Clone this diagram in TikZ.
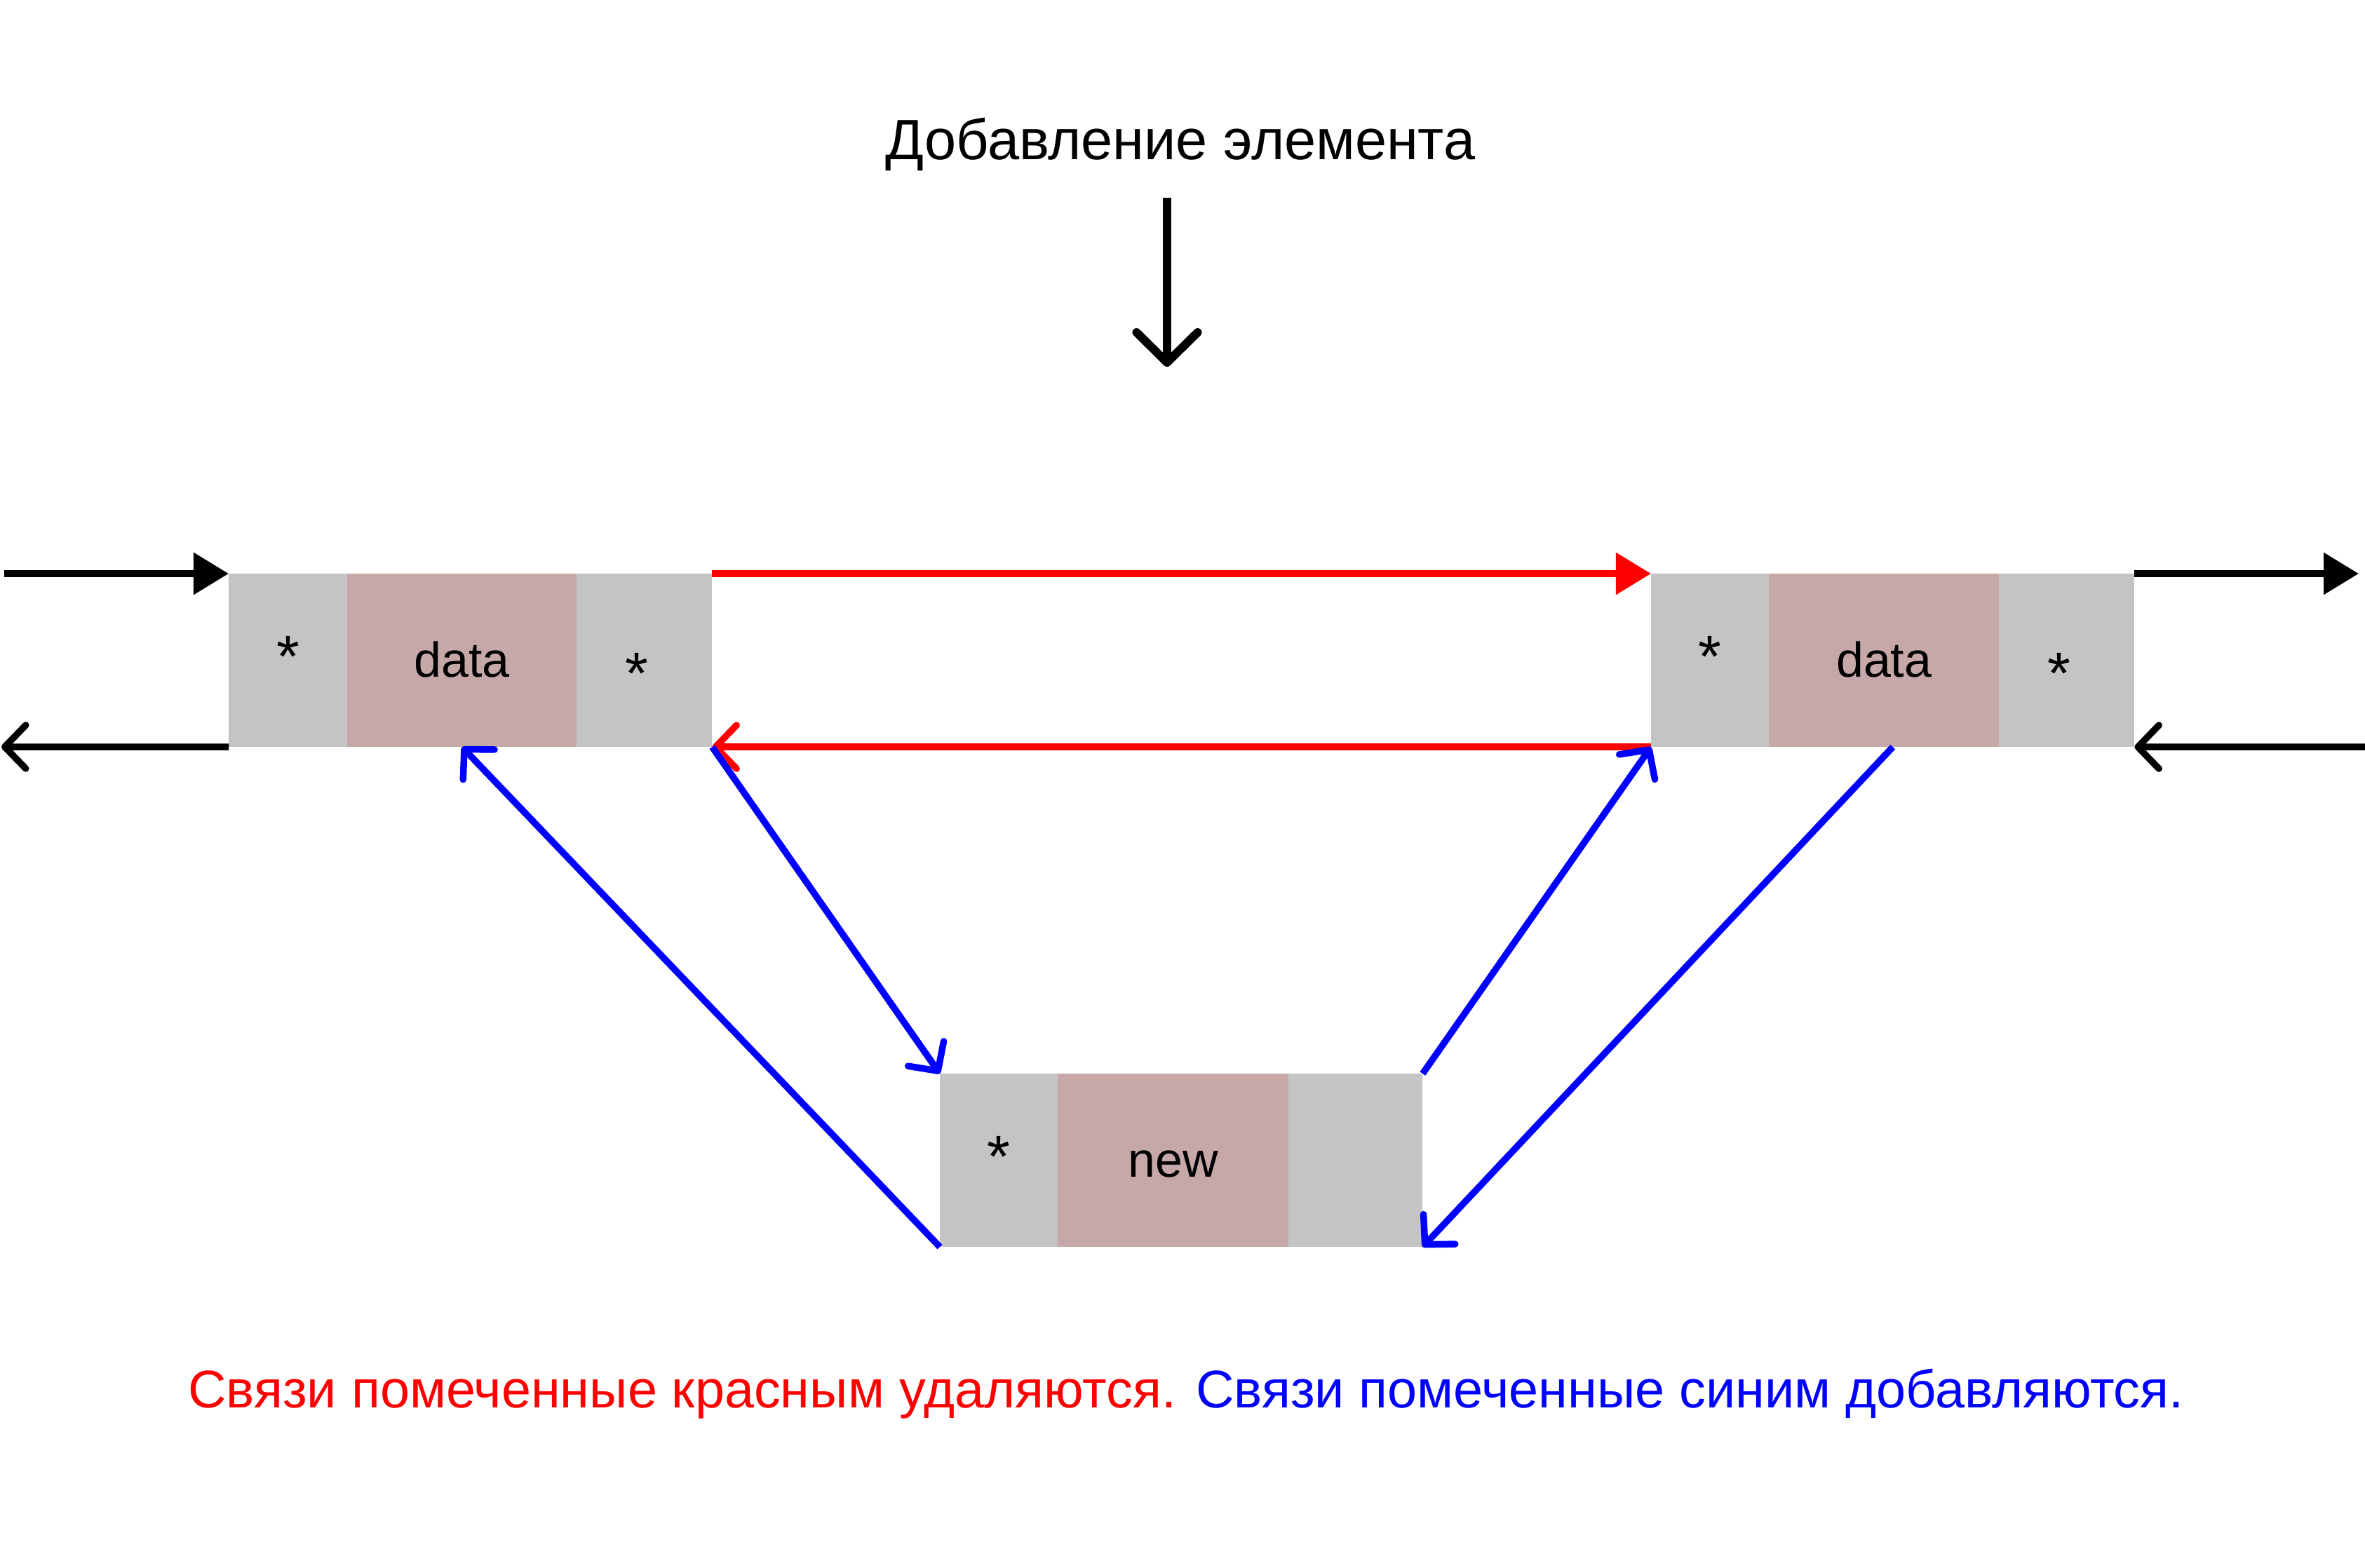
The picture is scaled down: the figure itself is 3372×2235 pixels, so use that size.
\documentclass[tikz,border=0pt]{standalone}
\usepackage{fontspec}
\setmainfont{Liberation Sans}
\usetikzlibrary{arrows.meta,calc}
\definecolor{cellgray}{RGB}{196,196,196}
\definecolor{cellpink}{RGB}{198,168,168}
\begin{document}
\begin{tikzpicture}[x=0.01cm,y=-0.01cm,
  cell/.style={inner sep=0pt, outer sep=0pt, minimum height=2.47cm, anchor=north west},
  ptrcell/.style={cell, fill=cellgray},
  valcell/.style={cell, fill=cellpink},
  celltext/.style={font=\fontsize{19.9pt}{24pt}\selectfont, inner sep=0pt, anchor=base},
  startext/.style={font=\fontsize{24pt}{28pt}\selectfont, inner sep=0pt, anchor=base},
  link/.style={line width=0.095cm},
  solidtip/.style={link, -{Triangle[length=0.5cm,width=0.58cm]}},
  opentip/.style={link, -{Straight Barb[length=0.3cm,width=0.62cm,round]}},
]
\useasboundingbox (0,0) rectangle (3372,2235);

% title and the insertion arrow
\node[font=\fontsize{23.05pt}{27pt}\selectfont, anchor=base] (title) at (1683,227) {Добавление элемента};
\coordinate (dropTop) at (1664,282);
\coordinate (dropTip) at (1664,523);
\draw[line width=0.12cm, -{Straight Barb[length=0.43cm,width=0.87cm,round]}] (dropTop) -- (dropTip);

% left list element
\node[ptrcell, minimum width=1.69cm] (lp) at (326,818) {};
\node[valcell, minimum width=3.27cm] (ld) at (lp.north east) {};
\node[ptrcell, minimum width=1.93cm] (ln) at (ld.north east) {};
\node[startext] (lps) at ($(lp.center)+(0,24)$) {*};
\node[celltext] (ldt) at ($(ld.center)+(0,23.5)$) {data};
\node[startext] (lns) at ($(ln.center)+(-11,48)$) {*};

% right list element
\node[ptrcell, minimum width=1.68cm] (rp) at (2354,818) {};
\node[valcell, minimum width=3.28cm] (rd) at (rp.north east) {};
\node[ptrcell, minimum width=1.93cm] (rn) at (rd.north east) {};
\node[startext] (rps) at ($(rp.center)+(0,24)$) {*};
\node[celltext] (rdt) at ($(rd.center)+(0,23.5)$) {data};
\node[startext] (rns) at ($(rn.center)+(-11,48)$) {*};
\coordinate (rmid) at ($(rp.south west)!0.5!(rn.south east)$);

% new element
\node[ptrcell, minimum width=1.68cm] (np) at (1340,1531) {};
\node[valcell, minimum width=3.29cm] (nd) at (np.north east) {};
\node[ptrcell, minimum width=1.91cm] (nn) at (nd.north east) {};
\node[startext] (nps) at ($(np.center)+(0,24)$) {*};
\node[celltext] (ndt) at ($(nd.center)+(0,23.5)$) {new};

% outer links
\coordinate (inL) at (6,818);
\coordinate (outL) at (2,1065);
\coordinate (outR) at (3363,818);
\coordinate (inR) at (3372,1065);
\draw[solidtip] (inL) -- (lp.north west);
\draw[opentip] (lp.south west) -- (outL);
\draw[solidtip] (rn.north east) -- (outR);
\draw[opentip] (inR) -- (rn.south east);

% links that are removed
\draw[solidtip, red] (ln.north east) -- (rp.north west);
\draw[opentip, red] (rp.south west) -- (ln.south east);

% links that are added
\draw[opentip, blue] (ln.south east) -- (np.north west);
\draw[opentip, blue] (nn.north east) -- (rp.south west);
\draw[opentip, blue] (np.south west) -- (ld.south);
\draw[opentip, blue] (rmid) -- (nn.south east);

% legend
\node[font=\fontsize{21.5pt}{26pt}\selectfont, anchor=base] (legend) at (1691,2007)
  {\textcolor{red}{Связи помеченные красным удаляются.} \textcolor{blue}{Связи помеченные синим добавляются.}};
\end{tikzpicture}
\end{document}
